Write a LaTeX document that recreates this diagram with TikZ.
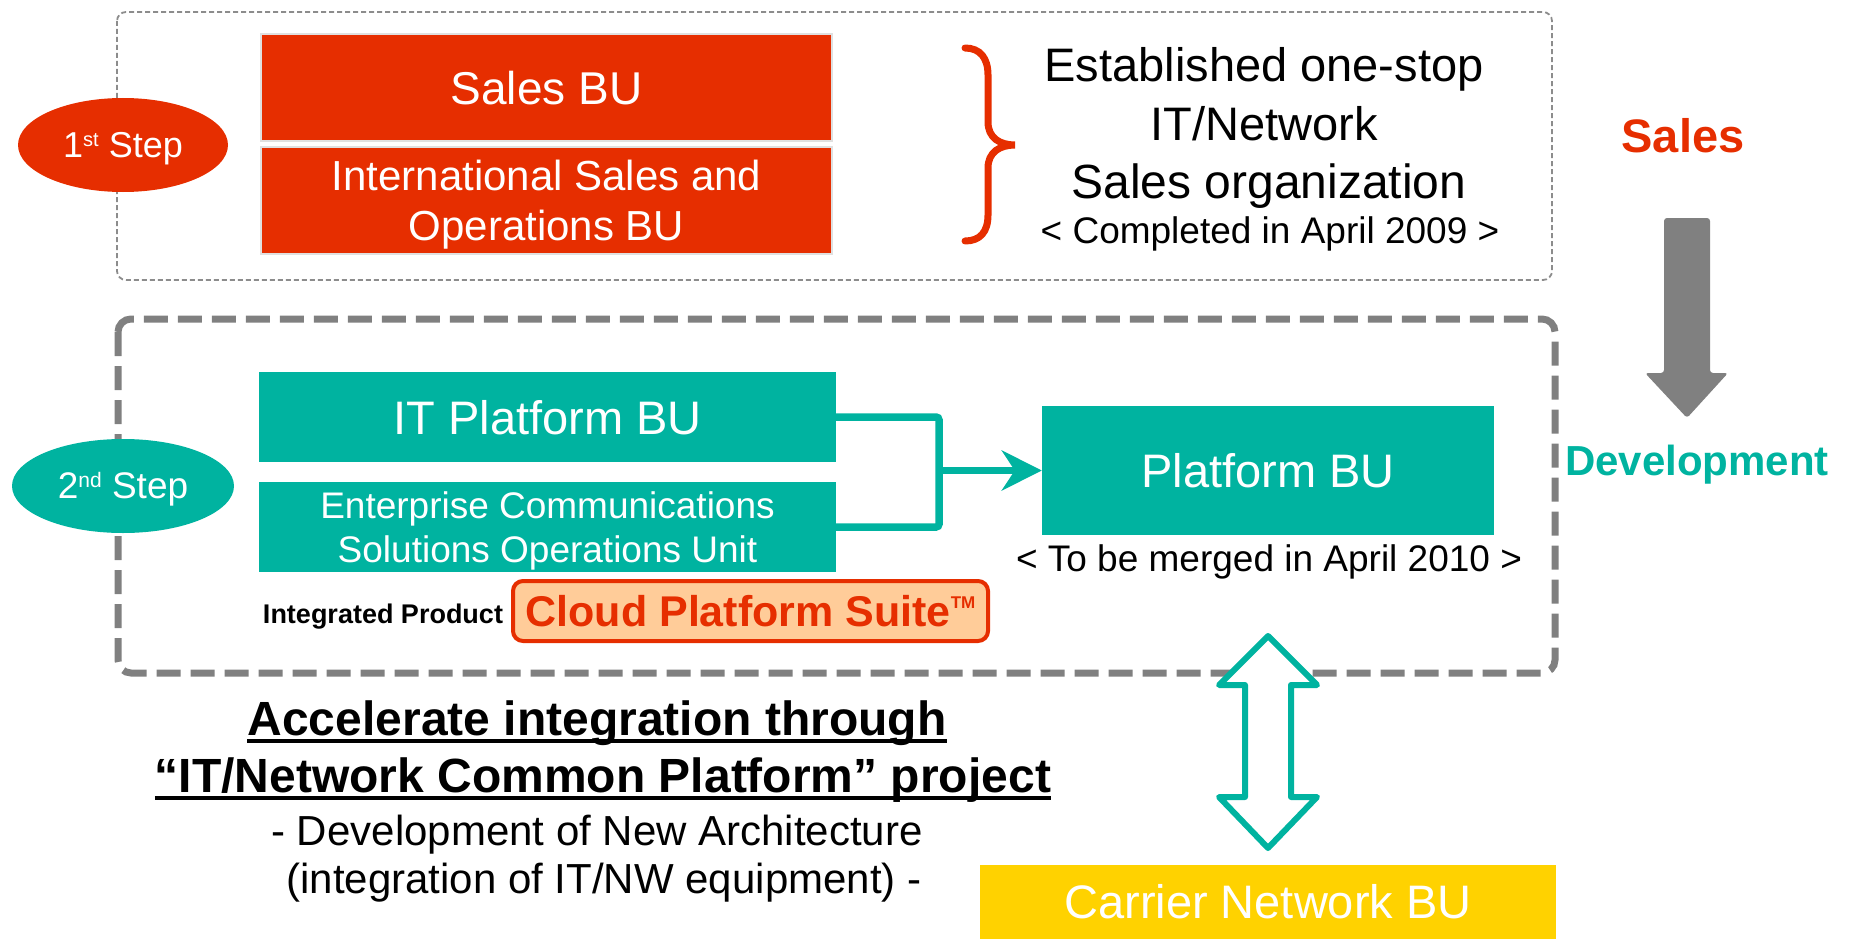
\documentclass[tikz,border=0pt]{standalone}
\usepackage{fontspec}
\setmainfont{Liberation Sans}
\usetikzlibrary{shapes.geometric,arrows.meta}
\definecolor{nred}{RGB}{230,46,0}
\definecolor{nteal}{RGB}{0,179,160}
\definecolor{nyellow}{RGB}{255,210,0}
\definecolor{npeach}{RGB}{255,204,153}
\definecolor{ngray}{RGB}{128,128,128}
\newcommand\fsz[2]{\fontsize{#1}{#2}\selectfont}
\newcommand\supr[2]{\smash{\raisebox{#1}{\fsz{#2}{#2}}}}
\begin{document}
\begin{tikzpicture}[x=1pt,y=-1pt,
  redbox/.style={fill=nred, draw=black!12, line width=1.5pt, text=white, inner sep=0pt, align=center, text depth=0pt},
  tealbox/.style={fill=nteal, text=white, inner sep=0pt, align=center, text depth=0pt},
  stepnode/.style={ellipse, text=white, inner sep=0pt, text depth=0pt},
  phase/.style={draw=ngray, rounded corners=#1},
  link/.style={draw=nteal, line width=7.5pt},
  plain/.style={anchor=base, inner sep=0pt},
  uline/.style={line width=3.5pt}]
\useasboundingbox (0,0) rectangle (1851,939);

% phase frames
\draw[phase=9pt, line width=1.8pt, dash pattern=on 5pt off 3pt, draw=black!45] (117,12) rectangle (1552,280);
\draw[phase=13pt, line width=7pt, dash pattern=on 24pt off 10pt] (118,319) rectangle (1555,673);

% step markers
\node[stepnode, fill=nred, minimum width=210pt, minimum height=94pt, font=\fsz{36}{40}] (s1) at (123,145)
  {1\smash{\raisebox{11pt}{\fsz{20}{20}st}} Step};
\node[stepnode, fill=nteal, minimum width=222pt, minimum height=94pt, font=\fsz{37}{40}] (s2) at (123,486)
  {2\smash{\raisebox{11pt}{\fsz{21}{21}nd}} Step};

% first step: sales organisations
\node[redbox, minimum width=571pt, minimum height=107pt, font=\fsz{46}{50}] (sales) at (546.5,87.5) {Sales BU};
\node[redbox, minimum width=571pt, minimum height=107pt, font=\fsz{42}{50}] (isob) at (546.5,200.5)
  {International Sales and\\Operations BU};
\draw[nred, line width=7pt, line cap=round]
  (965,48) .. controls (980,48) and (988,58) .. (988,75) -- (988,122)
  .. controls (988,138) and (1000,145) .. (1015,145)
  .. controls (1000,145) and (988,152) .. (988,168) -- (988,215)
  .. controls (988,232) and (980,241) .. (965,241);
\node[plain, font=\fsz{47}{50}] (est1) at (1264,82) {Established one-stop};
\node[plain, font=\fsz{47}{50}] (est2) at (1264,140) {IT/Network};
\node[plain, font=\fsz{48}{50}] (est3) at (1269,198) {Sales organization};
\node[plain, font=\fsz{37}{40}] (done) at (1270,243) {< Completed in April 2009 >};

% second step: platform organisations
\node[tealbox, minimum width=577pt, minimum height=90pt, font=\fsz{47}{50}] (itp) at (547.5,417) {IT Platform BU};
\node[tealbox, minimum width=577pt, minimum height=90pt, font=\fsz{37}{44}] (ecs) at (547.5,527)
  {Enterprise Communications\\Solutions Operations Unit};
\node[tealbox, minimum width=452pt, minimum height=129pt, font=\fsz{47}{50}] (pbu) at (1268,470.5) {Platform BU};
\node[plain, font=\fsz{37}{40}] (merge) at (1269,571) {< To be merged in April 2010 >};
\coordinate (jn) at (939,470.5);
\draw[link, rounded corners=3pt] (itp.east) -| (jn) |- (ecs.east);
\draw[link, -{Stealth[length=40pt, width=40pt, inset=13pt]}] (jn) -- (pbu.west);
\node[plain, font=\bfseries\fsz{27}{30}] (ip) at (383,623) {Integrated Product};
\node[draw=nred, line width=4pt, fill=npeach, rounded corners=10pt, minimum width=475pt, minimum height=60pt,
  inner sep=0pt, text=nred, font=\bfseries\fsz{43}{44}] (cps) at (750.5,611)
  {Cloud Platform Suite\smash{\raisebox{18pt}{\fsz{17}{17}TM}}};

% side labels and downward arrow
\node[plain, text=nred, font=\bfseries\fsz{47}{50}] (lsales) at (1683,153) {Sales};
\fill[ngray, rounded corners=3pt] (1664,218) -- (1710,218) -- (1710,373) -- (1728,373) -- (1687,418)
  -- (1645,373) -- (1664,373) -- cycle;
\node[plain, text=nteal, font=\bfseries\fsz{42}{46}] (ldev) at (1697,475) {Development};

% two-way exchange with carrier network
\draw[draw=nteal, fill=white, line width=6pt, line join=round]
  (1268,636) -- (1317,685) -- (1291,685) -- (1291,797) -- (1317,797) -- (1268,848)
  -- (1219,797) -- (1245,797) -- (1245,685) -- (1219,685) -- cycle;
\node[fill=nyellow, minimum width=576pt, minimum height=74pt, inner sep=0pt, text=white, font=\fsz{47}{50}]
  (cnb) at (1268,902) {Carrier Network BU};

% project statement
\node[plain, font=\bfseries\fsz{48}{50}] (t1) at (597,735) {Accelerate integration through};
\node[plain, font=\bfseries\fsz{48}{50}] (t2) at (603,792) {“IT/Network Common Platform” project};
\draw[uline] ([yshift=-6pt]t1.base west) -- ([yshift=-6pt]t1.base east);
\draw[uline] ([yshift=-6pt]t2.base west) -- ([yshift=-6pt]t2.base east);
\node[plain, font=\fsz{42}{44}] (sub1) at (597,845) {- Development of New Architecture};
\node[plain, font=\fsz{42}{44}] (sub2) at (604,893) {(integration of IT/NW equipment) -};
\end{tikzpicture}
\end{document}
